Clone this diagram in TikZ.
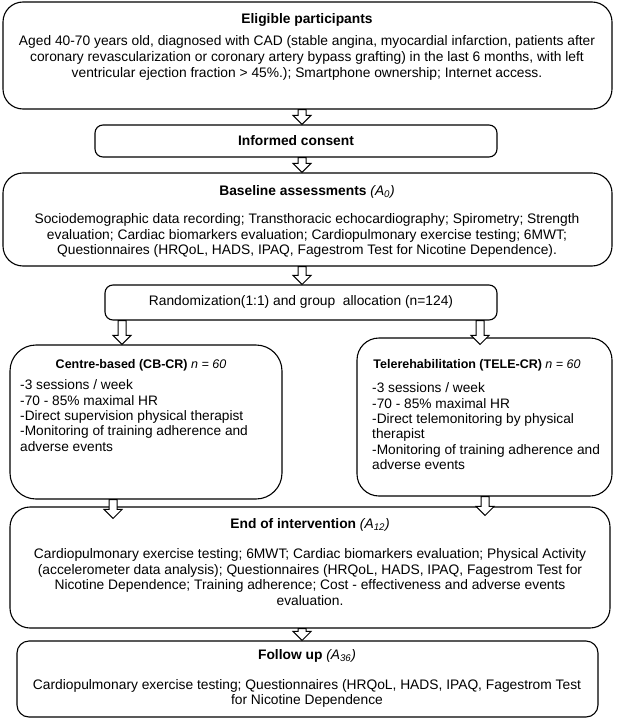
\documentclass[tikz,border=0pt]{standalone}
\usepackage{fontspec}
\setmainfont{Liberation Sans}
\usetikzlibrary{calc}
\begin{document}
\begin{tikzpicture}[x=1pt,y=-1pt,
  box/.style={draw, line width=1.1pt, rounded corners=#1, inner sep=0pt},
  box/.default=18pt,
  ttl/.style={font=\fontsize{13.8}{15.3}\selectfont\bfseries, inner sep=0pt},
  bdy/.style={font=\fontsize{13.8}{15.6}\selectfont, align=center, inner sep=0pt},
  sttl/.style={font=\fontsize{12.5}{15}\selectfont\bfseries, inner sep=0pt},
  sbdy/.style={font=\fontsize{13.7}{15.3}\selectfont, align=left, inner sep=0pt, anchor=west},
  barrow/.style={draw, fill=white, line width=1pt,
    to path={let \p1=(\tikztostart), \p2=(\tikztotarget) in
      (\x1-4pt,\y1) -- (\x1-4pt,\y2+9pt) -- (\x1-9pt,\y2+9pt) -- (\x1,\y2)
      -- (\x1+9pt,\y2+9pt) -- (\x1+4pt,\y2+9pt) -- (\x1+4pt,\y1) -- cycle}}]
\fill[white] (0,0) rectangle (616,720);
\useasboundingbox (0,0) rectangle (616,720);

\coordinate (xc) at (302,0);
\coordinate (xl) at (122,0);
\coordinate (xr) at (480,0);
\coordinate (xl2) at (113,0);
\coordinate (xr2) at (485,0);

% boxes
\node[box=20pt, minimum width=609pt, minimum height=107pt] (b1) at (307.5,55.5) {};
\node[box=8pt, minimum width=402pt, minimum height=32pt] (b2) at (296,141) {};
\node[box=20pt, minimum width=609pt, minimum height=93pt] (b3) at (307.5,219.5) {};
\node[box=8pt, minimum width=392pt, minimum height=35pt] (rand) at (301,302.5) {};
\node[box=26pt, minimum width=272pt, minimum height=154pt] (cb) at (146,422) {};
\node[box=22pt, minimum width=255pt, minimum height=158pt] (tele) at (484.5,417) {};
\node[box=20pt, minimum width=600pt, minimum height=121pt] (endi) at (310,567.5) {};
\node[box=12pt, minimum width=581pt, minimum height=76pt] (fol) at (307.5,679) {};

% texts
\node[ttl] (t1) at (307,20) {Eligible participants};
\node[bdy] (x1) at (307,58) {Aged 40-70 years old, diagnosed with CAD (stable angina, myocardial infarction, patients after\\
coronary revascularization or coronary artery bypass grafting) in the last 6 months, with left\\
ventricular ejection fraction > 45\%.); Smartphone ownership; Internet access.};

\node[ttl] (t2) at (296,141) {Informed consent};

\node[ttl] (t3) at (307,192) {Baseline assessments \mdseries\itshape(A\textsubscript{0})};
\node[bdy] (x3) at (307,235.5) {Sociodemographic data recording; Transthoracic echocardiography; Spirometry; Strength\\
evaluation; Cardiac biomarkers evaluation; Cardiopulmonary exercise testing; 6MWT;\\
Questionnaires (HRQoL, HADS, IPAQ, Fagestrom Test for Nicotine Dependence).};

\node[bdy] (t4) at (301,302) {Randomization(1:1) and group\ \ allocation (n=124)};

\node[sttl] (t5) at (141,365) {Centre-based (CB-CR) {\mdseries\itshape n = 60}};
\node[sbdy] (x5) at (20,415.6) {-3 sessions / week\\
-70 - 85\% maximal HR\\
-Direct supervision physical therapist\\
-Monitoring of training adherence and\\
adverse events};

\node[sttl] (t6) at (477,365) {Telerehabilitation (TELE-CR) {\mdseries\itshape n = 60}};
\node[sbdy] (x6) at (372,426.2) {-3 sessions / week\\
-70 - 85\% maximal HR\\
-Direct telemonitoring by physical\\
therapist\\
-Monitoring of training adherence and\\
adverse events};

\node[ttl] (t7) at (310,525) {End of intervention \mdseries\itshape(A\textsubscript{12})};
\node[bdy] (x7) at (310,577) {Cardiopulmonary exercise testing; 6MWT; Cardiac biomarkers evaluation; Physical Activity\\
(accelerometer data analysis); Questionnaires (HRQoL, HADS, IPAQ, Fagestrom Test for\\
Nicotine Dependence; Training adherence; Cost - effectiveness and adverse events\\
evaluation.};

\node[ttl] (t8) at (307,656) {Follow up \mdseries\itshape(A\textsubscript{36})};
\node[bdy] (x8) at (307,693.6) {Cardiopulmonary exercise testing; Questionnaires (HRQoL, HADS, IPAQ, Fagestrom Test\\
for Nicotine Dependence};

% block arrows
\draw[barrow] (b1.south -| xc) to (b2.north -| xc);
\draw[barrow] (b2.south -| xc) to (b3.north -| xc);
\draw[barrow] (b3.south -| xc) to (rand.north -| xc);
\draw[barrow] (rand.south -| xl) to (cb.north -| xl);
\draw[barrow] (rand.south -| xr) to ($(tele.north -| xr)+(0,7)$);
\draw[barrow] (cb.south -| xl2) to ($(endi.north -| xl2)+(0,12)$);
\draw[barrow] (tele.south -| xr2) to ($(endi.north -| xr2)+(0,9)$);
\draw[barrow] (endi.south -| xc) to (fol.north -| xc);
\end{tikzpicture}
\end{document}
